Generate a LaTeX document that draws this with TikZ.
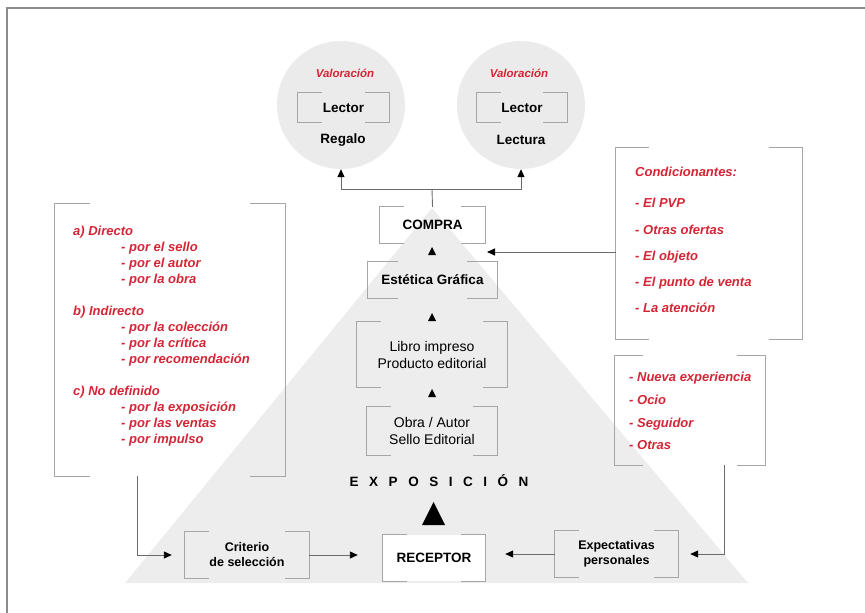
\documentclass[tikz,border=0pt]{standalone}
\usepackage{fontspec}
\setmainfont{Liberation Sans}
\usetikzlibrary{arrows.meta}
\definecolor{redtxt}{HTML}{D42535}
\definecolor{brkgray}{HTML}{A6A6A6}
\definecolor{bggray}{HTML}{EDEDED}
\definecolor{circgray}{HTML}{EBEBEB}
\definecolor{conngray}{HTML}{6A6A6A}
\definecolor{framegray}{HTML}{8C8C8C}
\newcommand\brk[2][24]{%
  \draw[brkline] ([xshift=#1pt]#2.north west) -- (#2.north west) -- (#2.south west) -- ([xshift=#1pt]#2.south west);
  \draw[brkline] ([xshift=-#1pt]#2.north east) -- (#2.north east) -- (#2.south east) -- ([xshift=-#1pt]#2.south east);}
\newcommand\tri[3]{\fill[black] (#1-#3/2,#2+#3/2) -- (#1,#2-#3/2) -- (#1+#3/2,#2+#3/2) -- cycle;}
\newcommand\lsp{\hspace{10.5pt}}
\begin{document}
\begin{tikzpicture}[x=1pt,y=-1pt,
  box/.style={inner sep=0pt, align=center},
  lbl/.style={font=\fontsize{13.5}{16}\selectfont\bfseries},
  reg/.style={font=\fontsize{14}{17}\selectfont},
  sml/.style={font=\fontsize{12.5}{15}\selectfont\bfseries},
  val/.style={font=\fontsize{11.5}{14}\selectfont\bfseries\itshape, text=redtxt},
  lst/.style={text=redtxt, align=left, inner sep=0pt, anchor=west},
  circ/.style={circle, fill=circgray, minimum size=128pt, inner sep=0pt},
  brkline/.style={draw=brkgray, line width=1.2pt},
  conn/.style={draw=conngray, line width=0.9pt, -{Triangle[length=8pt,width=7pt,color=black]}},
  plain/.style={draw=conngray, line width=0.9pt}]
\useasboundingbox (0,0) rectangle (865,613);
% frame
\draw[framegray, line width=1.5pt] (7,613) -- (7,8) -- (865,8);
% background pyramid
\fill[bggray] (432,208) -- (748,583) -- (125,583) -- cycle;
% circles
\node[circ] (c1) at (341,105) {};
\node[circ] (c2) at (521,105) {};
\node[val] (v1) at (345,73) {Valoración};
\node[val] (v2) at (519,73) {Valoración};
\node[box,lbl,minimum width=91pt,minimum height=29pt] (lec1) at (343.5,107.5) {Lector};
\node[box,lbl,minimum width=90pt,minimum height=29pt] (lec2) at (522,107.5) {Lector};
\node[box,lbl] (reg1) at (343,140) {Regalo};
\node[box,lbl] (reg2) at (521,140) {Lectura};
% central column
\node[box,lbl,minimum width=105pt,minimum height=36pt] (compra) at (432.5,225) {COMPRA};
\node[box,lbl,minimum width=129pt,minimum height=36pt] (estet) at (432.5,280) {Estética Gráfica};
\node[box,reg,minimum width=150pt,minimum height=65pt] (libro) at (432,354.5) {Libro impreso\\Producto editorial};
\node[box,reg,minimum width=130pt,minimum height=48pt] (obra) at (432,431) {Obra / Autor\\Sello Editorial};
\node[box,lbl] (expo) at (439,481) {E\lsp X\lsp P\lsp O\lsp S\lsp I\lsp C\lsp I\lsp Ó\lsp N};
\node[box,lbl,fill=white,minimum width=102pt,minimum height=46pt] (recep) at (434,558) {RECEPTOR};
\node[box,sml,minimum width=124pt,minimum height=46pt] (crit) at (247,555) {Criterio\\de selección};
\node[box,sml,minimum width=123pt,minimum height=46pt] (expect) at (616.5,554) {Expectativas\\personales};
% list boxes
\node[box,minimum width=230pt,minimum height=272pt] (critlist) at (170,340) {};
\node[box,minimum width=186pt,minimum height=191pt] (condlist) at (709,243.5) {};
\node[box,minimum width=150pt,minimum height=109pt] (explist) at (690,410.5) {};
\node[lst,font=\fontsize{13}{16}\selectfont\bfseries\itshape] (crittxt) at (73,336.5) {%
a) Directo\\
\hspace*{48pt}- por el sello\\
\hspace*{48pt}- por el autor\\
\hspace*{48pt}- por la obra\\[16pt]
b) Indirecto\\
\hspace*{48pt}- por la colección\\
\hspace*{48pt}- por la crítica\\
\hspace*{48pt}- por recomendación\\[16pt]
c) No definido\\
\hspace*{48pt}- por la exposición\\
\hspace*{48pt}- por las ventas\\
\hspace*{48pt}- por impulso};
\node[lst,font=\fontsize{13}{26.3}\selectfont\bfseries\itshape] (condtxt) at (635,240) {%
Condicionantes:\\[5pt]
- El PVP\\
- Otras ofertas\\
- El objeto\\
- El punto de venta\\
- La atención};
\node[lst,font=\fontsize{13}{22.7}\selectfont\bfseries\itshape] (exptxt) at (629,411) {%
- Nueva experiencia\\
- Ocio\\
- Seguidor\\
- Otras};
% brackets
\brk{lec1}
\brk{lec2}
\brk{compra}
\brk[30]{estet}
\brk{libro}
\brk{obra}
\brk{recep}
\brk{crit}
\brk{expect}
\brk[35]{critlist}
\brk[33]{condlist}
\brk[28]{explist}
% small arrow triangles
\tri{432}{251}{8}
\tri{432}{317}{8}
\tri{432}{393}{8}
\tri{433.5}{513.5}{23}
% connectors
\coordinate (jn) at (432,189);
\draw[plain] (compra.north) -- (jn);
\draw[conn] (jn) -| (c1.south);
\draw[conn] (jn) -| (c2.south);
\coordinate (ct) at (487,252);
\draw[conn] (condlist.west |- ct) -- (ct);
\coordinate (la) at (137,476);
\draw[conn, shorten >=13pt] (la) |- (crit.west);
\draw[conn, shorten >=25pt] (crit.east) -- (crit.east -| recep.west);
\draw[conn, shorten >=20pt] (expect.west) -- (expect.west -| recep.east);
\coordinate (ra) at (724,465);
\draw[conn, shorten >=12pt] (ra) |- (expect.east);
\end{tikzpicture}
\end{document}
